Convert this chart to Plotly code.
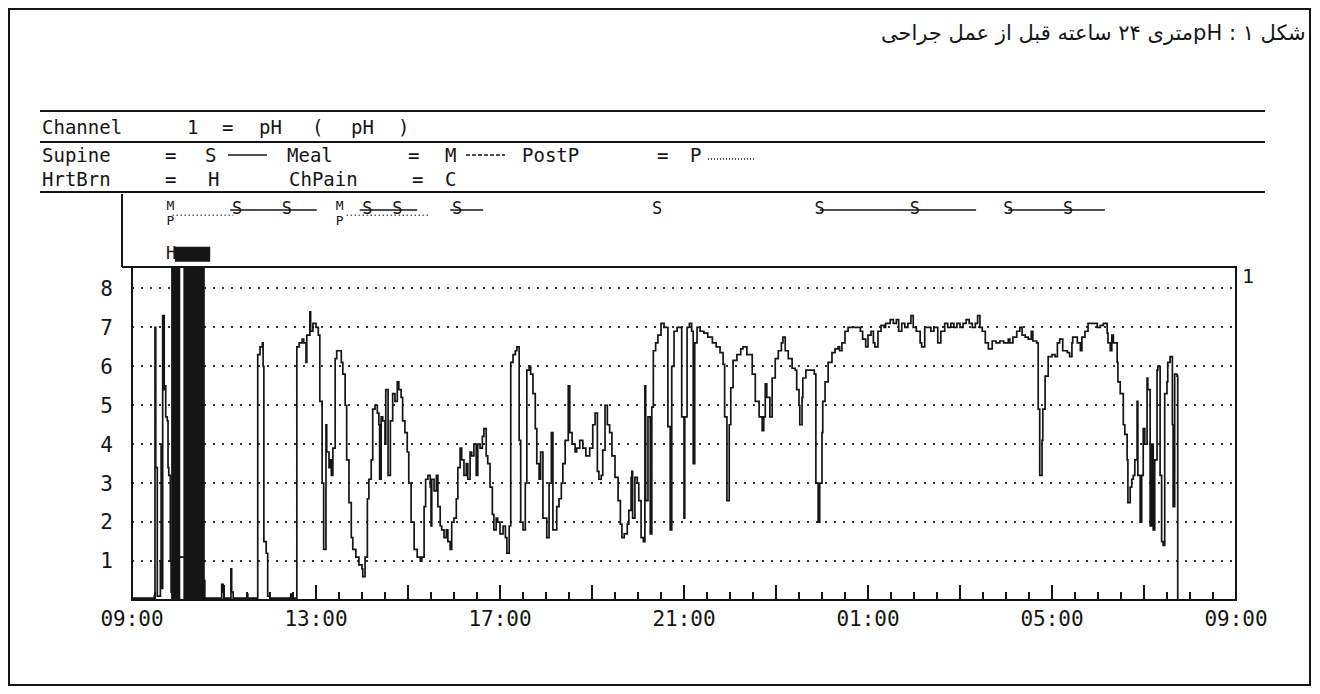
import plotly.graph_objects as go

# ---------------- data ----------------
# pH trace: minutes after 09:00 and pH value
t_min = [
    0, 23, 29, 30, 31, 33, 35, 37, 38, 39,
    40, 42, 43, 44, 46, 47, 48, 50, 51, 61,
    65, 81, 95, 115, 117, 119, 120, 128, 129, 130,
    132, 149, 150, 151, 163, 164, 167, 170, 171, 172,
    175, 177, 180, 206, 207, 209, 214, 215, 218, 222,
    224, 227, 228, 231, 232, 233, 236, 240, 243, 245,
    248, 250, 253, 254, 257, 258, 260, 262, 265, 267,
    270, 273, 275, 278, 280, 283, 286, 288, 292, 296,
    300, 301, 304, 307, 309, 312, 314, 317, 320, 322,
    323, 325, 327, 330, 331, 334, 337, 340, 343, 346,
    348, 351, 353, 356, 359, 361, 364, 368, 372, 376,
    378, 381, 383, 386, 389, 390, 391, 394, 397, 399,
    402, 404, 407, 410, 412, 415, 417, 420, 423, 425,
    428, 430, 433, 436, 438, 441, 443, 446, 449, 451,
    454, 457, 459, 462, 464, 467, 470, 472, 475, 477,
    480, 484, 487, 489, 492, 494, 497, 500, 502, 505,
    507, 510, 513, 515, 518, 520, 523, 526, 528, 531,
    533, 536, 539, 541, 544, 547, 549, 552, 554, 557,
    560, 562, 565, 569, 571, 574, 578, 580, 584, 588,
    592, 597, 601, 604, 607, 609, 612, 614, 617, 620,
    623, 626, 630, 634, 637, 639, 642, 646, 648, 651,
    652, 653, 656, 659, 661, 664, 667, 669, 670, 673,
    676, 678, 680, 683, 686, 690, 694, 697, 699, 702,
    704, 707, 711, 715, 717, 720, 721, 724, 727, 730,
    732, 734, 737, 741, 746, 751, 757, 762, 767, 771,
    773, 776, 779, 781, 784, 789, 794, 797, 802, 809,
    813, 818, 822, 824, 826, 828, 832, 835, 839, 843,
    847, 849, 852, 856, 861, 865, 867, 870, 871, 874,
    875, 879, 884, 890, 892, 895, 897, 900, 901, 904,
    908, 913, 917, 921, 923, 926, 930, 934, 939, 944,
    950, 953, 957, 960, 964, 967, 969, 973, 977, 981,
    983, 989, 993, 997, 1000, 1004, 1008, 1012, 1016, 1019,
    1023, 1028, 1030, 1034, 1038, 1042, 1046, 1051, 1055, 1060,
    1064, 1068, 1072, 1076, 1080, 1084, 1088, 1092, 1096, 1100,
    1103, 1106, 1109, 1113, 1117, 1122, 1127, 1132, 1137, 1143,
    1145, 1149, 1154, 1158, 1161, 1165, 1169, 1173, 1175, 1180,
    1182, 1184, 1187, 1188, 1191, 1195, 1200, 1204, 1207, 1210,
    1214, 1220, 1223, 1226, 1227, 1233, 1237, 1239, 1243, 1247,
    1252, 1259, 1263, 1267, 1272, 1273, 1276, 1278, 1280, 1282,
    1285, 1286, 1289, 1293, 1295, 1298, 1299, 1302, 1304, 1306,
    1308, 1311, 1312, 1315, 1317, 1319, 1321, 1324, 1325, 1328,
    1330, 1332, 1334, 1337, 1338, 1341, 1343, 1345, 1347, 1350,
    1351, 1354, 1357, 1358, 1360, 1363, 1364,
]
ph = [
    0.05, 0.05, 0.1, 7.0, 3.4, 0.1, 0.1, 1.0, 4.0, 0.3,
    7.3, 5.4, 5.5, 4.7, 4.6, 3.4, 3.2, 1.0, 0.2, 1.1,
    1.1, 0.5, 0.05, 0.05, 0.4, 0.2, 0.05, 0.05, 0.8, 0.2,
    0.05, 0.05, 0.15, 0.05, 0.05, 6.3, 6.5, 6.6, 6.0, 1.5,
    1.2, 0.1, 0.05, 0.05, 0.15, 0.05, 0.05, 6.5, 6.6, 6.7,
    6.6, 6.1, 6.8, 6.8, 7.4, 6.9, 7.1, 7.0, 6.8, 5.1,
    3.0, 1.3, 4.5, 3.8, 3.4, 3.6, 3.2, 3.9, 6.2, 6.4,
    6.4, 6.1, 5.8, 5.0, 3.6, 2.5, 1.6, 1.3, 1.1, 0.9,
    0.8, 0.6, 1.1, 2.6, 3.1, 3.6, 4.9, 5.0, 4.8, 4.5,
    3.1, 4.7, 4.6, 4.0, 5.4, 3.2, 4.6, 5.3, 5.1, 5.6,
    5.4, 5.2, 4.6, 4.3, 3.8, 3.0, 2.0, 1.3, 1.1, 1.0,
    1.1, 2.4, 3.1, 3.2, 2.9, 1.9, 3.1, 2.8, 3.2, 2.4,
    1.9, 1.8, 1.6, 1.8, 1.5, 1.3, 2.0, 2.1, 2.6, 3.4,
    3.9, 3.6, 3.2, 3.5, 3.1, 3.8, 3.7, 4.0, 3.2, 4.0,
    3.9, 4.2, 4.4, 3.7, 3.5, 2.9, 2.2, 1.8, 2.1, 2.0,
    1.7, 1.9, 1.6, 1.2, 1.9, 6.1, 6.3, 6.4, 6.5, 4.1,
    2.0, 1.8, 3.0, 5.9, 6.0, 5.8, 5.3, 4.4, 3.5, 3.1,
    3.8, 2.1, 2.1, 1.6, 3.0, 4.3, 1.8, 1.8, 2.4, 2.6,
    3.0, 3.5, 4.1, 5.5, 4.3, 4.0, 3.8, 3.9, 4.1, 3.9,
    3.7, 3.9, 4.5, 4.8, 3.3, 3.1, 3.2, 3.85, 5.0, 4.5,
    4.3, 3.7, 3.15, 2.55, 1.95, 1.6, 1.7, 1.95, 2.3, 3.15,
    3.3, 2.1, 3.15, 3.0, 2.55, 1.6, 1.5, 5.5, 2.55, 4.7,
    1.7, 4.95, 6.4, 6.6, 6.8, 7.1, 7.0, 7.0, 4.45, 1.8,
    6.0, 6.9, 7.0, 7.0, 4.7, 2.1, 4.7, 7.0, 7.1, 6.9,
    3.5, 6.6, 7.0, 6.9, 6.85, 6.75, 6.6, 6.5, 6.35, 6.05,
    4.7, 2.55, 4.5, 5.45, 6.15, 6.3, 6.45, 6.5, 6.3, 5.8,
    5.1, 4.7, 4.35, 4.7, 5.55, 5.2, 4.7, 5.7, 6.2, 6.4,
    6.6, 6.75, 6.4, 6.2, 5.95, 5.9, 5.4, 5.0, 4.5, 5.2,
    5.7, 5.9, 5.9, 5.8, 3.0, 2.0, 3.0, 4.3, 5.1, 5.6,
    6.1, 6.35, 6.45, 6.5, 6.4, 6.6, 6.9, 7.0, 7.0, 7.0,
    6.9, 6.7, 6.5, 6.8, 6.9, 6.6, 6.5, 6.9, 7.05, 7.0,
    7.1, 7.2, 7.1, 7.2, 6.9, 7.1, 7.0, 7.1, 7.3, 7.0,
    6.9, 6.6, 6.5, 7.0, 7.0, 6.9, 7.0, 6.6, 6.9, 7.1,
    7.0, 7.1, 7.0, 7.1, 7.0, 7.1, 7.2, 7.1, 7.0, 7.1,
    7.3, 7.0, 6.9, 6.6, 6.45, 6.65, 6.6, 6.65, 6.6, 6.7,
    6.6, 6.75, 6.9, 7.0, 6.8, 6.75, 6.7, 6.9, 6.65, 6.6,
    4.9, 3.2, 4.1, 4.9, 5.75, 6.25, 6.3, 6.25, 6.6, 6.7,
    6.4, 6.35, 6.25, 6.6, 6.75, 6.6, 6.4, 6.75, 6.9, 7.1,
    7.1, 7.0, 7.05, 7.1, 6.85, 6.6, 6.4, 6.8, 6.6, 6.6,
    6.1, 5.6, 5.3, 4.5, 4.25, 3.6, 2.5, 2.9, 3.1, 3.2,
    3.6, 5.1, 3.2, 2.0, 3.2, 4.4, 4.0, 5.7, 5.4, 1.9,
    4.0, 1.8, 3.6, 5.9, 6.0, 3.2, 1.5, 1.4, 5.3, 5.6,
    6.1, 6.25, 4.5, 2.4, 5.8, 5.75, 0.0,
]
assert len(t_min) == len(ph)

# axis ticks
tick_minutes = [0, 240, 480, 720, 960, 1200, 1440]
tick_labels = ["09:00", "13:00", "17:00", "21:00", "01:00", "05:00", "09:00"]
ph_ticks = [1, 2, 3, 4, 5, 6, 7, 8]

# event markers (minutes after 09:00)
supine_marks = [137, 202, 307, 346, 424, 685, 897, 1021, 1143, 1221]
supine_starts = [128, 297, 415, 897, 1143]
supine_ends = [241, 372, 458, 1101, 1269]
meal_marks = [50, 271]
postp_marks = [50, 271]
postp_starts = [53, 280]
postp_ends = [132, 389]
heartburn_marks = [51]
heartburn_starts = [56]
heartburn_ends = [102]
heartburn_band_starts = [51, 67]
heartburn_band_ends = [63, 95]

# ---------------- layout helpers ----------------
# page body has an 8px margin, so the figure is 16px smaller and
# screen positions are converted accordingly
OFF = 8
W, H = 1320 - 2 * OFF, 694 - 2 * OFF
def px(x):
    return (x - OFF) / W
def py(y):
    return 1 - (y - OFF) / H

MONO = "DejaVu Sans Mono"
INK = "#151515"

fig = go.Figure()

fig.add_trace(go.Scatter(
    x=t_min, y=ph, mode="lines",
    line=dict(color=INK, width=1.7, shape="hv"),
    showlegend=False, hoverinfo="skip",
))

# event row (yaxis2, 0..1)
EV = 0.76
sx, sy = [], []
for a, b in zip(supine_starts, supine_ends):
    sx += [a, b, None]
    sy += [EV, EV, None]
fig.add_trace(go.Scatter(x=sx, y=sy, yaxis="y2", mode="lines",
                         line=dict(color=INK, width=1.5),
                         showlegend=False, hoverinfo="skip"))
qx, qy = [], []
for a, b in zip(postp_starts, postp_ends):
    qx += [a, b, None]
    qy += [EV - 0.07, EV - 0.07, None]
fig.add_trace(go.Scatter(x=qx, y=qy, yaxis="y2", mode="lines",
                         line=dict(color=INK, width=1.5, dash="1px,3px"),
                         showlegend=False, hoverinfo="skip"))
fig.add_trace(go.Scatter(x=supine_marks, y=[EV] * len(supine_marks), yaxis="y2",
                         mode="text", text=["S"] * len(supine_marks),
                         textfont=dict(family=MONO, size=17, color=INK),
                         showlegend=False, hoverinfo="skip"))
fig.add_trace(go.Scatter(x=meal_marks, y=[EV + 0.05] * len(meal_marks), yaxis="y2",
                         mode="text", text=["M"] * len(meal_marks),
                         textfont=dict(family=MONO, size=13, color=INK),
                         showlegend=False, hoverinfo="skip"))
fig.add_trace(go.Scatter(x=postp_marks, y=[EV - 0.16] * len(postp_marks), yaxis="y2",
                         mode="text", text=["P"] * len(postp_marks),
                         textfont=dict(family=MONO, size=13, color=INK),
                         showlegend=False, hoverinfo="skip"))
fig.add_trace(go.Scatter(x=heartburn_marks, y=[0.17] * len(heartburn_marks), yaxis="y2",
                         mode="text", text=["H"] * len(heartburn_marks),
                         textfont=dict(family=MONO, size=17, color=INK),
                         showlegend=False, hoverinfo="skip"))

shapes = []
for a, b in zip(heartburn_starts, heartburn_ends):
    shapes.append(dict(type="rect", xref="x", yref="y2", x0=a, x1=b, y0=0.07, y1=0.27,
                       fillcolor=INK, line=dict(width=0)))
for a, b in zip(heartburn_band_starts, heartburn_band_ends):
    shapes.append(dict(type="rect", xref="x", yref="y domain", x0=a, x1=b, y0=0, y1=1,
                       fillcolor=INK, line=dict(width=0)))

def pline(x0, y0, x1, y1, w=2, dash=None):
    d = dict(type="line", xref="paper", yref="paper",
             x0=px(x0), y0=py(y0), x1=px(x1), y1=py(y1),
             line=dict(color=INK, width=w))
    if dash:
        d["line"]["dash"] = dash
    return d

# outer border
shapes.append(dict(type="rect", xref="paper", yref="paper",
                   x0=px(9), x1=px(1310), y0=py(685), y1=py(9),
                   line=dict(color=INK, width=2)))
# header rules
for yy in (111, 142, 192):
    shapes.append(pline(40, yy, 1265, yy, w=2))
# plot frame
shapes.append(dict(type="rect", xref="paper", yref="paper",
                   x0=px(132), x1=px(1236), y0=py(600), y1=py(267),
                   line=dict(color=INK, width=2)))
# event box left part
shapes.append(pline(122, 194, 122, 267, w=2))
shapes.append(pline(122, 267, 132, 267, w=2))
# legend line samples
shapes.append(pline(228, 155, 267, 155, w=1.5))
shapes.append(pline(466, 155, 505, 155, w=1.5, dash="4px,2px"))
shapes.append(pline(708, 159, 756, 159, w=1.5, dash="1px,2px"))

annotations = []
title_text = "\u202bشکل ۱ : pHمتری ۲۴ ساعته قبل از عمل جراحی\u202c"
annotations.append(dict(text=title_text, xref="paper", yref="paper",
                        x=px(1308), y=py(33), xanchor="right", yanchor="middle",
                        showarrow=False, font=dict(family="DejaVu Sans", size=21, color=INK)))

header_rows = [
    (127, [("Channel", 40, "left"), ("1", 192, "center"), ("=", 227, "center"),
           ("pH", 270, "center"), ("(", 317, "center"), ("pH", 362, "center"),
           (")", 403, "center")]),
    (155, [("Supine", 40, "left"), ("=", 170, "center"), ("S", 210, "center"),
           ("Meal", 285, "left"), ("=", 413, "center"), ("M", 450, "center"),
           ("PostP", 520, "left"), ("=", 662, "center"), ("P", 696, "center")]),
    (179, [("HrtBrn", 40, "left"), ("=", 170, "center"), ("H", 213, "center"),
           ("ChPain", 287, "left"), ("=", 417, "center"), ("C", 450, "center")]),
]
for yy, toks in header_rows:
    for txt, xx, anc in toks:
        annotations.append(dict(text=txt, xref="paper", yref="paper",
                                x=px(xx), y=py(yy), xanchor=anc, yanchor="middle",
                                showarrow=False,
                                font=dict(family=MONO, size=19, color=INK)))
annotations.append(dict(text="1", xref="paper", yref="paper",
                        x=px(1240), y=py(276), xanchor="left", yanchor="middle",
                        showarrow=False, font=dict(family=MONO, size=20, color=INK)))

# major ticks every 2 h, labels every 4 h
major_vals = list(range(0, 1441, 120))
major_text = [tick_labels[tick_minutes.index(v)] if v in tick_minutes else "" for v in major_vals]

fig.update_layout(
    width=W, height=H,
    margin=dict(l=0, r=0, t=0, b=0, pad=0, autoexpand=False),
    paper_bgcolor="white", plot_bgcolor="white",
    showlegend=False,
    xaxis=dict(domain=[px(132), px(1236)], range=[0, 1440], anchor="y",
               tickvals=major_vals, ticktext=major_text,
               ticks="inside", ticklen=15, tickwidth=1.5, tickcolor=INK,
               minor=dict(ticks="inside", ticklen=8, tickwidth=1.5, tickcolor=INK,
                          dtick=30, tick0=0, showgrid=False),
               showgrid=False, zeroline=False, showline=False, automargin=False,
               tickfont=dict(family=MONO, size=21, color=INK),
               ticklabelstandoff=4, fixedrange=True),
    yaxis=dict(domain=[py(600), py(267)], range=[0, 8.55], anchor="x",
               tickvals=ph_ticks, ticks="",
               showgrid=True, gridcolor="#333333", gridwidth=2, griddash="2px,7px",
               zeroline=False, showline=False, automargin=False,
               tickfont=dict(family=MONO, size=21, color=INK),
               ticklabelstandoff=18, fixedrange=True),
    yaxis2=dict(domain=[py(267), py(192)], range=[0, 1], anchor="x",
                visible=False, automargin=False, fixedrange=True),
    shapes=shapes,
    annotations=annotations,
)

fig.write_html("out.html")
